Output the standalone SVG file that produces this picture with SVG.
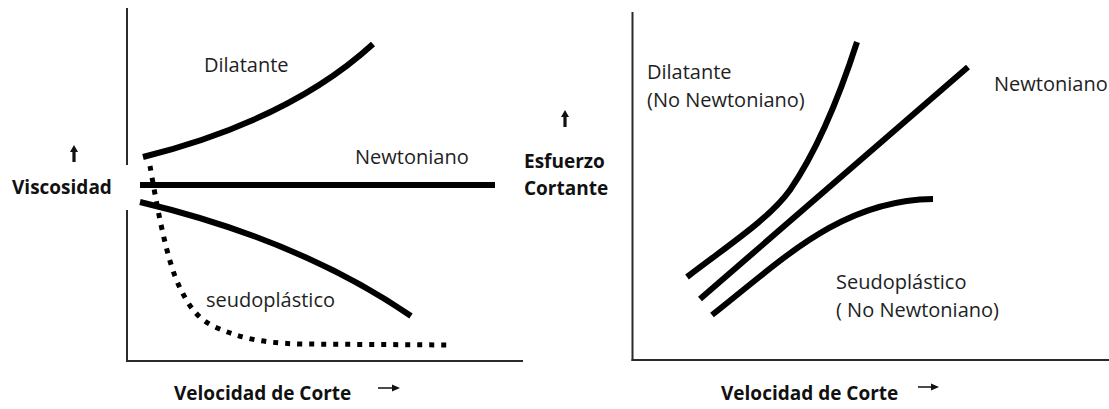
<svg xmlns="http://www.w3.org/2000/svg" width="1109" height="409" viewBox="0 0 1109 409">
<style>
.axis{stroke:#2b2b2b;stroke-width:2;fill:none}
.curve{stroke:#000;stroke-width:6;fill:none;stroke-linecap:butt}
.dots{stroke:#000;stroke-width:5;fill:none;stroke-dasharray:5 7}
.lbl{font-family:"Open Sans","Noto Sans","Liberation Sans",sans-serif;font-size:20px;fill:#1e1e24}
.bold{font-family:"Open Sans","Noto Sans","Liberation Sans",sans-serif;font-size:19px;font-weight:bold;fill:#111}
.arr{fill:#111}
</style>
<rect width="1109" height="409" fill="#fff"/>
<g id="left-chart">
  <g id="left-axes">
    <line class="axis" x1="127" y1="8" x2="127" y2="165"/>
    <line class="axis" x1="127" y1="210" x2="127" y2="362"/>
    <line class="axis" x1="126" y1="361" x2="523" y2="361"/>
  </g>
  <g id="left-curves">
    <path id="left-dilatante" class="curve" d="M143,157 Q290,120 373,44"/>
    <path id="left-newtoniano" class="curve" d="M140,185 L495,185"/>
    <path id="left-seudoplastico" class="curve" d="M140,202 Q300,240 411,316"/>
    <path id="left-dotted" class="dots" d="M150,166 C156,200 166,260 180,288 C188,304 196,318 215,327 C240,338 262,343 300,344 L452,345"/>
  </g>
  <g id="left-labels">
    <text class="lbl" x="204" y="72">Dilatante</text>
    <text class="lbl" x="355" y="164">Newtoniano</text>
    <text class="lbl" x="206" y="307">seudoplástico</text>
    <text class="bold" x="12" y="194">Viscosidad</text>
    <text class="bold" x="174" y="400">Velocidad de Corte</text>
    <path class="arr" d="M74,145 L78,152 L75.6,152 L75.6,162 L72.4,162 L72.4,152 L70,152 Z"/>
    <path class="arr" d="M400,388 L392,384.6 L392,387.2 L378,387.2 L378,388.8 L392,388.8 L392,391.4 Z"/>
  </g>
</g>
<g id="right-chart">
  <g id="right-axes">
    <line class="axis" x1="632.5" y1="12" x2="632.5" y2="361"/>
    <line class="axis" x1="631.5" y1="360" x2="1109" y2="360"/>
  </g>
  <g id="right-curves">
    <path id="right-dilatante" class="curve" d="M687,277 C730,244 770,218 790,190 C812,158 835,110 857,42"/>
    <path id="right-newtoniano" class="curve" d="M700,299 L968,67"/>
    <path id="right-seudoplastico" class="curve" d="M712,315 C780,262 840,200 933,199"/>
  </g>
  <g id="right-labels">
    <text class="lbl" x="647" y="79">Dilatante</text>
    <text class="lbl" x="647" y="107">(No Newtoniano)</text>
    <text class="lbl" x="994" y="91">Newtoniano</text>
    <text class="lbl" x="836" y="289">Seudoplástico</text>
    <text class="lbl" x="836" y="317">( No Newtoniano)</text>
    <text class="bold" x="524" y="168">Esfuerzo</text>
    <text class="bold" x="524" y="195">Cortante</text>
    <text class="bold" x="721" y="400">Velocidad de Corte</text>
    <path class="arr" d="M565,110 L569,117 L566.6,117 L566.6,127 L563.4,127 L563.4,117 L561,117 Z"/>
    <path class="arr" d="M939,387 L931,383.6 L931,386.2 L918,386.2 L918,387.8 L931,387.8 L931,390.4 Z"/>
  </g>
</g>
</svg>
